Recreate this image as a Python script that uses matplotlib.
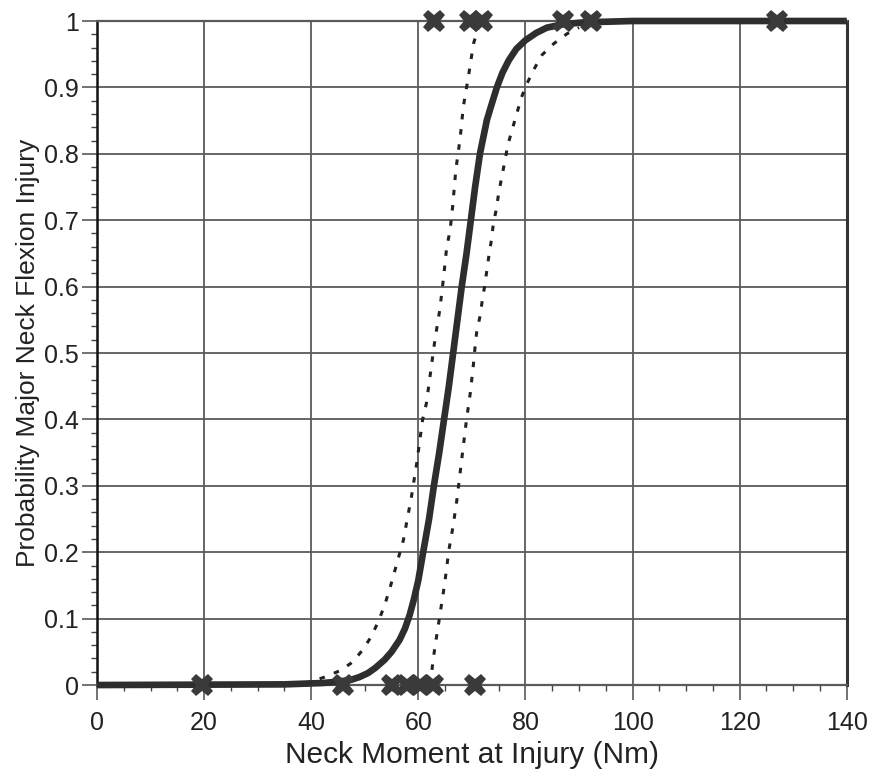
import matplotlib

matplotlib.use("Agg")
import matplotlib.pyplot as plt
from matplotlib.ticker import MultipleLocator

plt.rcParams["font.family"] = ["Liberation Sans", "DejaVu Sans"]

# ---------------------------------------------------------------------------
# Data
# ---------------------------------------------------------------------------
fit_x = [0, 35, 42, 45, 47.5, 49, 50.6, 52, 53.7, 55, 56.5, 57.5, 58.4, 59.2,
         60.0, 60.9, 62.0, 62.9, 63.9, 64.8, 65.7, 66.5, 67.3, 68.1, 69.0,
         69.8, 70.6, 71.5, 72.8, 73.7, 74.7, 75.7, 76.9, 78.3, 80.0, 82.0,
         84.0, 87.0, 91.0, 100, 140]
fit_y = [0, 0.001, 0.003, 0.005, 0.008, 0.012, 0.018, 0.026, 0.038, 0.05,
         0.068, 0.085, 0.106, 0.13, 0.158, 0.20, 0.25, 0.30, 0.35, 0.40,
         0.45, 0.50, 0.55, 0.60, 0.65, 0.70, 0.75, 0.80, 0.851, 0.875, 0.901,
         0.922, 0.941, 0.958, 0.971, 0.982, 0.99, 0.995, 0.998, 1.0, 1.0]

upper_x = [36, 40, 42.5, 45.5, 47.8, 49.8, 51.2, 52.5, 53.7, 54.7, 55.5,
           57.2, 58.7, 59.7, 60.8, 61.5, 62.3, 63.1, 64.0, 64.7, 65.3, 65.9,
           66.4, 67.0, 67.8, 68.4, 69.4, 70.3, 71.2]
upper_y = [0, 0.005, 0.012, 0.022, 0.035, 0.055, 0.073, 0.095, 0.12, 0.146,
           0.169, 0.218, 0.283, 0.334, 0.40, 0.424, 0.472, 0.52, 0.565,
           0.613, 0.66, 0.683, 0.72, 0.776, 0.823, 0.871, 0.919, 0.966, 0.99]

lower_x = [62.2, 62.8, 63.2, 63.7, 64.1, 64.5, 65.0, 65.7, 66.5, 67.2, 68.1,
           69.0, 69.7, 70.0, 70.3, 70.6, 70.9, 71.5, 71.9, 72.4, 72.8, 73.2,
           73.7, 74.0, 74.6, 75.0, 75.6, 76.2, 76.7, 77.5, 78.4, 79.2, 80.3,
           81.5, 83.1, 85.3, 87.8, 90.0]
lower_y = [0.0, 0.04, 0.063, 0.088, 0.11, 0.13, 0.158, 0.203, 0.24, 0.279,
           0.34, 0.40, 0.44, 0.462, 0.484, 0.51, 0.532, 0.555, 0.577, 0.602,
           0.625, 0.648, 0.673, 0.695, 0.718, 0.741, 0.766, 0.791, 0.813,
           0.836, 0.861, 0.884, 0.906, 0.926, 0.949, 0.966, 0.981, 0.99]

injured_x = [63.0, 69.7, 71.9, 87.0, 92.2, 126.9]
uninjured_x = [19.6, 45.9, 55.0, 57.8, 60.3, 62.8, 70.6]

x_ticks = [0, 20, 40, 60, 80, 100, 120, 140]
y_ticks = [0, 0.1, 0.2, 0.3, 0.4, 0.5, 0.6, 0.7, 0.8, 0.9, 1]
y_tick_labels = ["0", "0.1", "0.2", "0.3", "0.4", "0.5", "0.6", "0.7",
                 "0.8", "0.9", "1"]

# ---------------------------------------------------------------------------
# Figure
# ---------------------------------------------------------------------------
fig = plt.figure(figsize=(8.76, 7.78), dpi=100)
ax = fig.add_axes([0.1107, 0.1195, 0.856, 0.8535])

grid_col = "#5a5a5a"
ax.set_xlim(0, 140)
ax.set_ylim(0, 1)
ax.set_xticks(x_ticks)
ax.set_yticks(y_ticks)
ax.set_yticklabels(y_tick_labels)
ax.xaxis.set_minor_locator(MultipleLocator(5))
ax.yaxis.set_minor_locator(MultipleLocator(0.02))
ax.grid(True, which="major", color=grid_col, linewidth=1.3)
ax.set_axisbelow(True)

ax.tick_params(which="major", direction="out", length=11, width=1.2,
               color=grid_col, labelsize=18, labelcolor="#222222", pad=2)
ax.tick_params(axis="x", which="major", pad=8)
ax.tick_params(which="minor", direction="out", length=4, width=1.0,
               color="#444444")

for side in ("top", "bottom"):
    ax.spines[side].set_color(grid_col)
    ax.spines[side].set_linewidth(1.6)
ax.spines["left"].set_color("#111111")
ax.spines["left"].set_linewidth(1.8)
ax.spines["right"].set_color("#333333")
ax.spines["right"].set_linewidth(2.2)

dot_style = (0, (1.8, 3.2))
ax.plot(upper_x, upper_y, color="#222222", linewidth=2.2,
        linestyle=dot_style, dash_capstyle="butt", clip_on=False, zorder=3)
ax.plot(lower_x, lower_y, color="#222222", linewidth=2.2,
        linestyle=dot_style, dash_capstyle="butt", clip_on=False, zorder=3)
ax.plot(fit_x, fit_y, color="#2e2e2e", linewidth=4.8,
        solid_capstyle="butt", clip_on=False, zorder=4)

ax.plot(injured_x, [1] * len(injured_x), linestyle="none", marker="X",
        markersize=16, color="#3a3a3a", markeredgewidth=0, clip_on=False,
        zorder=5)
ax.plot(uninjured_x, [0] * len(uninjured_x), linestyle="none", marker="X",
        markersize=16, color="#3a3a3a", markeredgewidth=0, clip_on=False,
        zorder=5)

ax.set_xlabel("Neck Moment at Injury (Nm)", fontsize=21.5, color="#222222",
              labelpad=4)
ax.set_ylabel("Probability Major Neck Flexion Injury", fontsize=19,
              color="#222222", labelpad=3)

fig.savefig("out.png", dpi=100)
